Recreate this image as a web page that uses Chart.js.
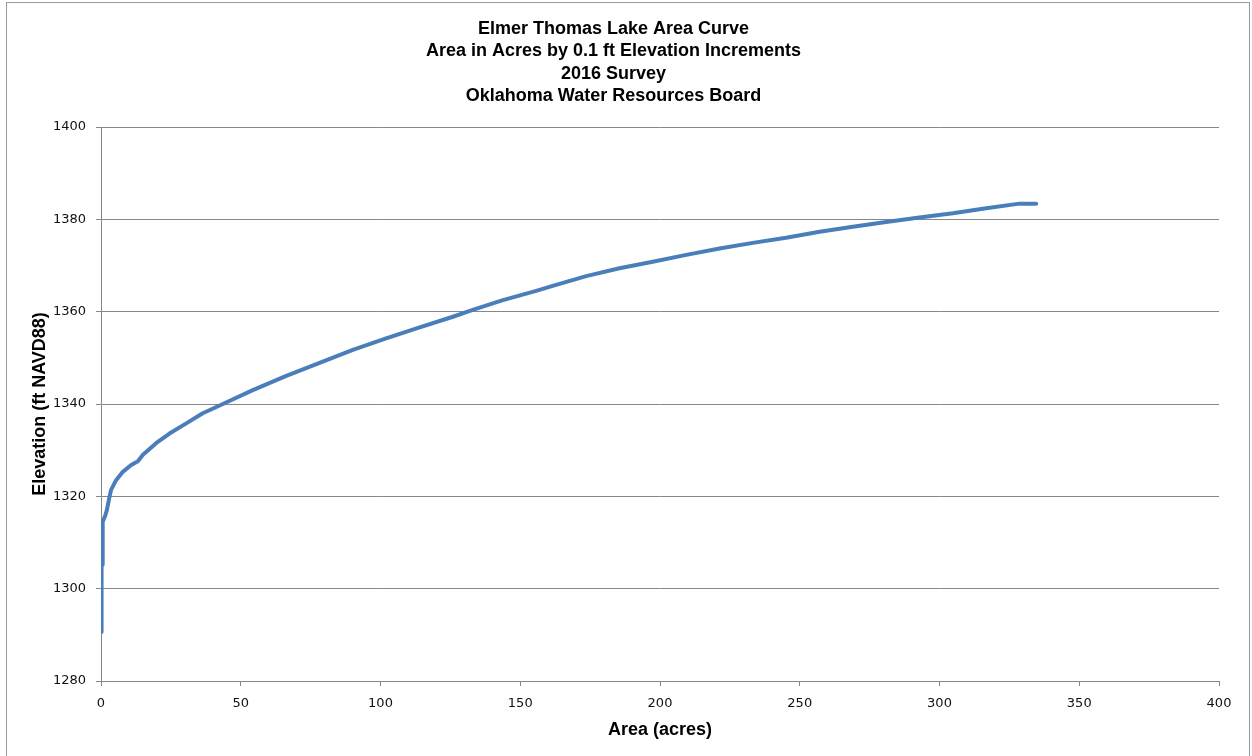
<!DOCTYPE html>
<html>
<head>
<meta charset="utf-8">
<title>Elmer Thomas Lake Area Curve</title>
<script src="https://cdn.jsdelivr.net/npm/chart.js@4/dist/chart.umd.min.js"></script>
<style>
  html, body { margin: 0; padding: 0; background: #fff; }
  #wrap { width: 1252px; height: 756px; }
</style>
</head>
<body>
<div id="wrap"><canvas id="areaChart"></canvas></div>
<script>
// Area (acres)
const areaAcres = [0.2, 0.2, 0.5, 0.5, 0.7, 1.5, 2.1, 2.8, 3.6, 5.4, 7.8, 10.8, 13.2, 15, 19.7,
  24.5, 30.5, 36.4, 43.6, 54.3, 66.3, 78.2, 90.1, 102, 114, 125.9, 133, 143.8, 155.7, 161.6,
  173.6, 185.5, 197.4, 209.4, 221.3, 233.2, 245.1, 257.1, 269, 280.9, 292.8, 304.8, 316.7,
  328.6, 334.6];
// Elevation (ft NAVD88) for each area
const elevationFt = [1290.6, 1305, 1305.2, 1313, 1314.5, 1315.8, 1317, 1319.2, 1321.4, 1323.5,
  1325.3, 1326.8, 1327.6, 1329, 1331.5, 1333.6, 1335.8, 1338, 1340, 1343, 1346.1, 1348.9,
  1351.7, 1354.2, 1356.6, 1358.9, 1360.4, 1362.5, 1364.5, 1365.6, 1367.7, 1369.4, 1370.8,
  1372.3, 1373.7, 1374.9, 1376, 1377.3, 1378.4, 1379.4, 1380.4, 1381.3, 1382.4, 1383.4, 1383.4];

const xTicks = [0, 50, 100, 150, 200, 250, 300, 350, 400];
const yTicks = [1280, 1300, 1320, 1340, 1360, 1380, 1400];

const titleLines = [
  'Elmer Thomas Lake Area Curve',
  'Area in Acres by 0.1 ft Elevation Increments',
  '2016 Survey',
  'Oklahoma Water Resources Board'
];

const points = areaAcres.map((a, i) => ({ x: a, y: elevationFt[i] }));

const boldFont = "'Liberation Sans', Arial, sans-serif";
const tickFont = "'DejaVu Sans', sans-serif";
const gridColor = '#878787';

// White page plus the thin frame around the whole chart
const frame = {
  id: 'frame',
  beforeDraw(chart) {
    const c = chart.ctx;
    c.save();
    c.fillStyle = '#fff';
    c.fillRect(0, 0, chart.width, chart.height);
    c.strokeStyle = '#9a9a9a';
    c.lineWidth = 1;
    c.strokeRect(6.5, 2.5, 1243, 760);
    c.restore();
  }
};

new Chart(document.getElementById('areaChart'), {
  type: 'scatter',
  data: {
    datasets: [{
      data: points,
      showLine: true,
      borderColor: '#4a7ebb',
      borderWidth: 4,
      pointRadius: 0,
      tension: 0,
      borderCapStyle: 'round',
      borderJoinStyle: 'round'
    }]
  },
  options: {
    responsive: true,
    maintainAspectRatio: false,
    animation: false,
    layout: { padding: { left: 8, right: 33, top: 0, bottom: 0 } },
    plugins: {
      legend: { display: false },
      tooltip: { enabled: false },
      title: {
        display: true,
        text: titleLines,
        color: '#000',
        font: { family: boldFont, size: 18, weight: 'bold', lineHeight: 1.25 },
        padding: { top: 17.5, bottom: 19.5 }
      }
    },
    scales: {
      x: {
        type: 'linear',
        min: 0,
        max: 400,
        afterBuildTicks: (scale) => { scale.ticks = xTicks.map(v => ({ value: v })); },
        afterFit: (scale) => { scale.height = 75; },
        grid: {
          drawOnChartArea: false,
          drawTicks: true,
          tickLength: 5,
          color: gridColor
        },
        border: { display: true, color: gridColor },
        ticks: {
          color: '#111',
          padding: 10,
          maxRotation: 0,
          font: { family: tickFont, size: 13 },
          callback: (v) => String(v)
        },
        title: {
          display: true,
          text: 'Area (acres)',
          color: '#000',
          font: { family: boldFont, size: 18, weight: 'bold' },
          padding: { top: 0, bottom: 15 }
        }
      },
      y: {
        type: 'linear',
        min: 1280,
        max: 1400,
        afterBuildTicks: (scale) => { scale.ticks = yTicks.map(v => ({ value: v })); },
        afterFit: (scale) => { scale.width = 93; },
        grid: {
          drawOnChartArea: true,
          drawTicks: true,
          tickLength: 5,
          color: gridColor
        },
        border: { display: true, color: gridColor },
        ticks: {
          color: '#111',
          padding: 10,
          font: { family: tickFont, size: 13 },
          callback: (v) => String(v)
        },
        title: {
          display: true,
          text: 'Elevation (ft NAVD88)',
          color: '#000',
          font: { family: boldFont, size: 18, weight: 'bold' },
          padding: { top: 21, bottom: 0 }
        }
      }
    }
  },
  plugins: [frame]
});
</script>
</body>
</html>
